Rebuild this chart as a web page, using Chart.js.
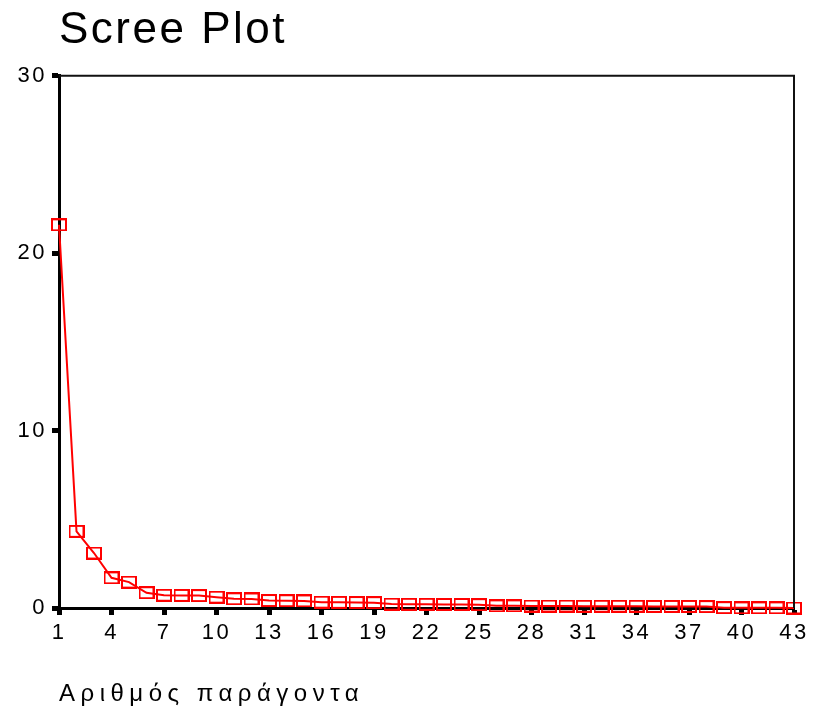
<!DOCTYPE html>
<html>
<head>
<meta charset="utf-8">
<script src="https://cdn.jsdelivr.net/npm/chart.js@4/dist/chart.umd.min.js"></script>
<style>
  html, body { margin: 0; padding: 0; background: #ffffff; }
  #scree { display: block; }
</style>
</head>
<body>
<canvas id="scree" width="814" height="720"></canvas>
<script>
// Factor numbers and their eigenvalues
const factorNumbers = [
  1, 2, 3, 4, 5, 6, 7, 8, 9, 10,
  11, 12, 13, 14, 15, 16, 17, 18, 19, 20,
  21, 22, 23, 24, 25, 26, 27, 28, 29, 30,
  31, 32, 33, 34, 35, 36, 37, 38, 39, 40,
  41, 42, 43
];
const eigenvalues = [
  21.60, 4.32, 3.10, 1.70, 1.46, 0.86, 0.72, 0.71, 0.70, 0.61,
  0.52, 0.51, 0.42, 0.41, 0.40, 0.33, 0.32, 0.31, 0.30, 0.22,
  0.21, 0.21, 0.20, 0.20, 0.19, 0.12, 0.12, 0.11, 0.11, 0.11,
  0.10, 0.10, 0.10, 0.10, 0.09, 0.09, 0.09, 0.08, 0.02, 0.01,
  0.01, 0.01, 0.00
];
const xTickValues = [1, 4, 7, 10, 13, 16, 19, 22, 25, 28, 31, 34, 37, 40, 43];
const yTickValues = [0, 10, 20, 30];

const chartTitle = 'Scree Plot';
const xAxisTitle = 'Αριθμός παράγοντα';

const FONT = 'Arial, "Liberation Sans", sans-serif';

// Hollow rectangular marker used for every point
function makeMarker() {
  const c = document.createElement('canvas');
  c.width = 16;
  c.height = 13;
  const g = c.getContext('2d');
  g.strokeStyle = '#ff0000';
  g.lineWidth = 2;
  g.strokeRect(1, 1, 14, 11);
  return c;
}
const marker = makeMarker();

// Text spacing (wider for the axis title) and the top/right frame lines
const framePlugin = {
  id: 'frame',
  afterUpdate(chart) {
    const xs = chart.scales.x;
    if (xs && !xs._spacedTitle) {
      const drawTitle = xs.drawTitle.bind(xs);
      xs.drawTitle = function () {
        const ctx = this.ctx;
        const prev = ctx.letterSpacing;
        ctx.letterSpacing = '5.5px';
        drawTitle();
        ctx.letterSpacing = prev;
      };
      xs._spacedTitle = true;
    }
  },
  beforeDraw(chart) {
    chart.ctx.letterSpacing = '2.5px';
  },
  afterDraw(chart) {
    const { ctx, chartArea } = chart;
    ctx.save();
    ctx.strokeStyle = '#111111';
    ctx.lineWidth = 2;
    ctx.beginPath();
    ctx.moveTo(chartArea.left, chartArea.top);
    ctx.lineTo(chartArea.right, chartArea.top);
    ctx.lineTo(chartArea.right, chartArea.bottom);
    ctx.stroke();
    ctx.restore();
  }
};

new Chart(document.getElementById('scree'), {
  type: 'line',
  data: {
    datasets: [{
      data: factorNumbers.map((f, i) => ({ x: f, y: eigenvalues[i] })),
      borderColor: '#ff0000',
      borderWidth: 2,
      tension: 0,
      pointStyle: marker,
      pointRadius: 7,
      pointHoverRadius: 7,
      clip: false
    }]
  },
  options: {
    responsive: false,
    animation: false,
    devicePixelRatio: 1,
    layout: { padding: { top: 0, right: 20, bottom: 0, left: 0 } },
    plugins: {
      legend: { display: false },
      tooltip: { enabled: false },
      title: {
        display: true,
        text: chartTitle,
        align: 'start',
        fullSize: false,
        color: '#000000',
        font: { family: FONT, size: 44, weight: 'normal' },
        padding: { top: 4, bottom: 19 }
      }
    },
    scales: {
      x: {
        type: 'linear',
        min: 1,
        max: 43,
        afterBuildTicks(scale) {
          scale.ticks = xTickValues.map(v => ({ value: v }));
        },
        afterFit(scale) { scale.height = 112; },
        ticks: {
          color: '#000000',
          font: { family: FONT, size: 22 },
          padding: 5,
          maxRotation: 0,
          autoSkip: false
        },
        grid: {
          drawOnChartArea: false,
          drawTicks: true,
          tickLength: 7,
          tickWidth: 5,
          tickColor: '#000000'
        },
        border: { display: true, color: '#000000', width: 3 },
        title: {
          display: true,
          text: xAxisTitle,
          align: 'start',
          color: '#000000',
          font: { family: FONT, size: 24 },
          padding: { top: 0, bottom: 11 }
        }
      },
      y: {
        type: 'linear',
        min: 0,
        max: 30,
        afterBuildTicks(scale) {
          scale.ticks = yTickValues.map(v => ({ value: v }));
        },
        afterFit(scale) { scale.width = 59; },
        ticks: {
          color: '#000000',
          font: { family: FONT, size: 22 },
          padding: 5
        },
        grid: {
          drawOnChartArea: false,
          drawTicks: true,
          tickLength: 7,
          tickWidth: 5,
          tickColor: '#000000'
        },
        border: { display: true, color: '#000000', width: 3 }
      }
    }
  },
  plugins: [framePlugin]
});
</script>
</body>
</html>
